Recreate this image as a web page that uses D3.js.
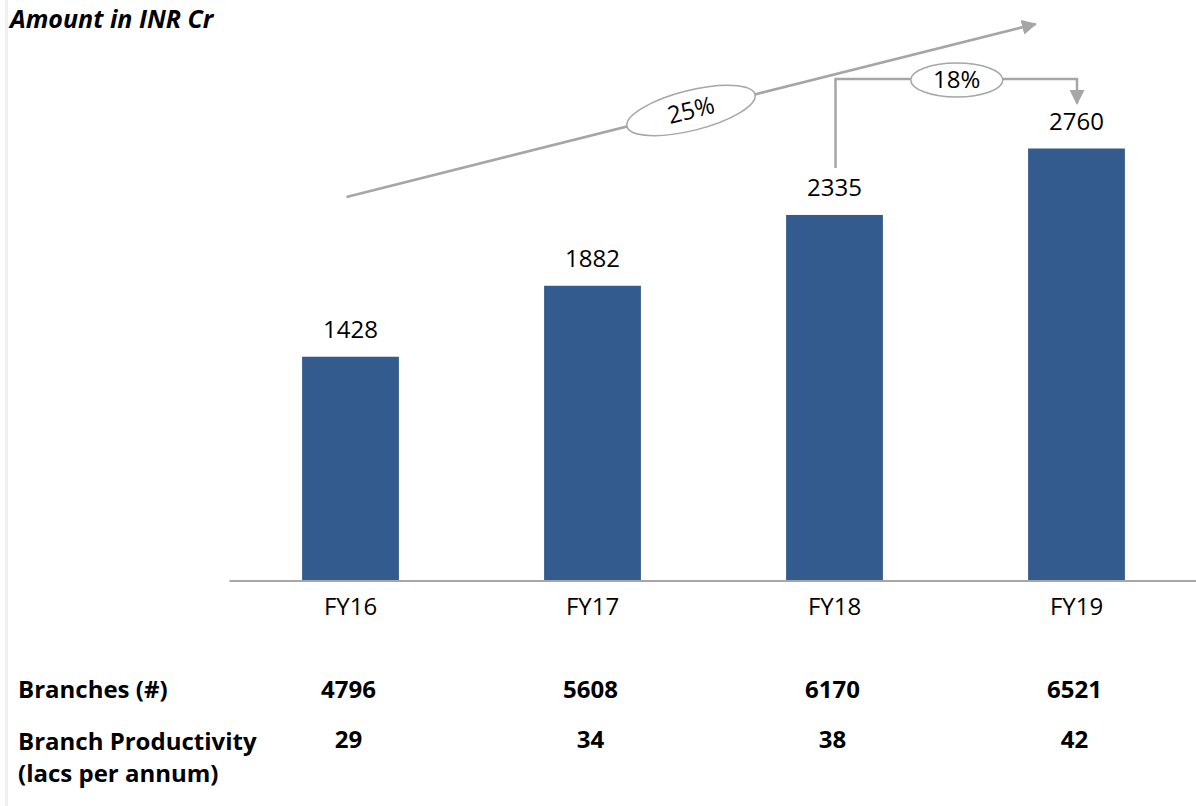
<!DOCTYPE html>
<html>
<head>
<meta charset="utf-8">
<script src="https://cdn.jsdelivr.net/npm/d3@7/dist/d3.min.js"></script>
<style>
  html, body { margin: 0; padding: 0; background: #fff; }
  svg { display: block; }
  text { font-family: "Open Sans", Lato, "Liberation Sans", sans-serif; fill: #000; }
</style>
</head>
<body>
<svg id="chart" width="1196" height="806"></svg>
<script>
// Disbursement amounts per fiscal year (INR Cr)
const categories = ["FY16", "FY17", "FY18", "FY19"];
const amounts = [1428, 1882, 2335, 2760];
// Table rows shown beneath the bars
const branches = [4796, 5608, 6170, 6521];
const productivity = [29, 34, 38, 42];
const rowLabels = ["Branches (#)", "Branch Productivity", "(lacs per annum)"];
const unitLabel = "Amount in INR Cr";
const cagrLabel = "25%";
const yoyLabel = "18%";

const W = 1196, H = 806;
const FS = "24px";
const svg = d3.select("#chart");

const x = d3.scaleBand().domain(categories).range([229.5, 1197.5]).padding(0);
const barW = x.bandwidth() * 0.4;
const xc = d => x(d) + x.bandwidth() / 2;
const y = d3.scaleLinear().domain([0, d3.max(amounts)]).range([580, 148.5]);

const gray = "#a6a6a6";
const barColor = "#335b8e";

// faint frame line on the left edge
svg.append("rect").attr("x", 5).attr("y", 0).attr("width", 3).attr("height", H).attr("fill", "#f0f0f0");

// unit caption
svg.append("text").attr("x", 10).attr("y", 28)
  .style("font-size", "25px").style("font-weight", 700).style("font-style", "italic")
  .text(unitLabel);

// bars
svg.append("g").selectAll("rect").data(amounts).join("rect")
  .attr("x", (d, i) => xc(categories[i]) - barW / 2)
  .attr("width", barW)
  .attr("y", d => y(d))
  .attr("height", d => y(0) - y(d))
  .attr("fill", barColor);

// value labels above bars
svg.append("g").selectAll("text").data(amounts).join("text")
  .attr("x", (d, i) => xc(categories[i]))
  .attr("y", d => y(d) - 19)
  .attr("text-anchor", "middle")
  .style("font-size", FS)
  .text(d => d);

// category axis
const axis = svg.append("g").attr("transform", `translate(0,${y(0) + 1})`)
  .call(d3.axisBottom(x).tickSize(0).tickPadding(0));
axis.select(".domain").attr("stroke", gray).attr("stroke-width", 2).attr("d", `M${x.range()[0]},0H${W}`);
axis.selectAll(".tick text")
  .attr("y", 34).attr("dy", 0)
  .style("font-family", "'Open Sans', Lato, sans-serif")
  .style("font-size", FS).attr("fill", "#000");

// table rows under the chart
const table = svg.append("g").style("font-size", FS).style("font-weight", 700);
table.append("text").attr("x", 18).attr("y", 698).text(rowLabels[0]);
table.append("text").attr("x", 18).attr("y", 750).text(rowLabels[1]);
table.append("text").attr("x", 18).attr("y", 782).text(rowLabels[2]);
table.append("g").selectAll("text").data(branches).join("text")
  .attr("x", (d, i) => xc(categories[i]) - 2).attr("y", 698)
  .attr("text-anchor", "middle").text(d => d);
table.append("g").selectAll("text").data(productivity).join("text")
  .attr("x", (d, i) => xc(categories[i]) - 2).attr("y", 748)
  .attr("text-anchor", "middle").text(d => d);

// arrowhead marker
const defs = svg.append("defs");
defs.append("marker").attr("id", "head")
  .attr("viewBox", "0 0 10 10").attr("refX", 9).attr("refY", 5)
  .attr("markerWidth", 6).attr("markerHeight", 6).attr("markerUnits", "strokeWidth")
  .attr("orient", "auto")
  .append("path").attr("d", "M0,0L10,5L0,10Z").attr("fill", gray);

// CAGR trend arrow with rotated ellipse label
const a0 = [xc(categories[0]) - 4, y(amounts[2]) - 18];
const a1 = [xc(categories[3]) - 41, y(amounts[3]) - 124.5];
svg.append("line")
  .attr("x1", a0[0]).attr("y1", a0[1]).attr("x2", a1[0]).attr("y2", a1[1])
  .attr("stroke", gray).attr("stroke-width", 2.5).attr("marker-end", "url(#head)");
const t = 0.5;
const mid = [a0[0] + (a1[0] - a0[0]) * t, a0[1] + (a1[1] - a0[1]) * t];
const ang = Math.atan2(a1[1] - a0[1], a1[0] - a0[0]) * 180 / Math.PI;
const cg = svg.append("g").attr("transform", `translate(${mid[0]},${mid[1]}) rotate(${ang})`);
cg.append("ellipse").attr("rx", 66).attr("ry", 20).attr("fill", "#fff").attr("stroke", gray).attr("stroke-width", 1.5);
cg.append("text").attr("text-anchor", "middle").attr("y", 8).style("font-size", FS).text(cagrLabel);

// year-on-year elbow connector FY18 -> FY19
const bx = xc(categories[2]) + 1, ex = xc(categories[3]) + 0.5;
const by = y(amounts[2]) - 47, topY = y(amounts[3]) - 69.5, ey = y(amounts[3]) - 45;
svg.append("path")
  .attr("d", `M${bx},${by}V${topY}H${ex}V${ey}`)
  .attr("fill", "none").attr("stroke", gray).attr("stroke-width", 2.5).attr("marker-end", "url(#head)");
const yg = svg.append("g").attr("transform", `translate(${(bx + ex) / 2 + 0.5},${topY + 1})`);
yg.append("ellipse").attr("rx", 46).attr("ry", 17).attr("fill", "#fff").attr("stroke", gray).attr("stroke-width", 1.5);
yg.append("text").attr("text-anchor", "middle").attr("y", 8).style("font-size", FS).text(yoyLabel);
</script>
</body>
</html>
